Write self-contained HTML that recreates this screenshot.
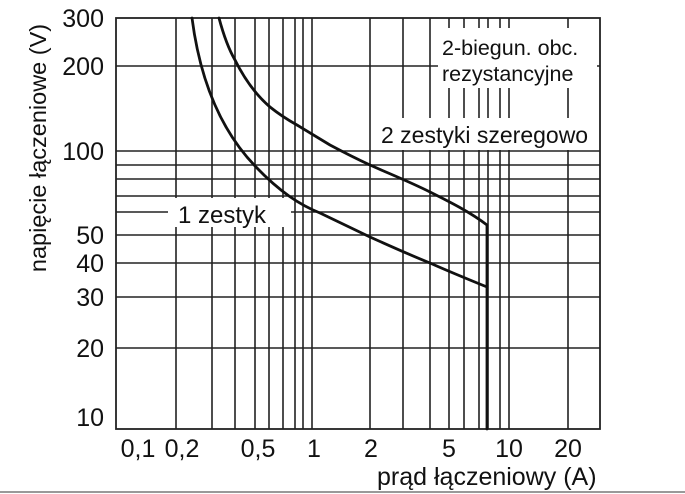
<!DOCTYPE html>
<html><head><meta charset="utf-8"><style>
html,body{margin:0;padding:0;background:#fff;}
svg{display:block;}
text{font-family:"Liberation Sans",sans-serif;fill:#111;}
</style></head><body>
<svg width="685" height="494" viewBox="0 0 685 494" xmlns="http://www.w3.org/2000/svg">
<rect width="685" height="494" fill="#fff"/>
<g stroke="#222" stroke-width="1.6" fill="none">
<line x1="116" y1="66" x2="600" y2="66"/>
<line x1="116" y1="151" x2="600" y2="151"/>
<line x1="116" y1="165" x2="600" y2="165"/>
<line x1="116" y1="179" x2="600" y2="179"/>
<line x1="116" y1="196" x2="600" y2="196"/>
<line x1="116" y1="212" x2="600" y2="212"/>
<line x1="116" y1="235" x2="600" y2="235"/>
<line x1="116" y1="263" x2="600" y2="263"/>
<line x1="116" y1="297" x2="600" y2="297"/>
<line x1="116" y1="348" x2="600" y2="348"/>
<line x1="176" y1="18" x2="176" y2="429"/>
<line x1="212" y1="18" x2="212" y2="429"/>
<line x1="235" y1="18" x2="235" y2="429"/>
<line x1="255" y1="18" x2="255" y2="429"/>
<line x1="269" y1="18" x2="269" y2="429"/>
<line x1="283" y1="18" x2="283" y2="429"/>
<line x1="295" y1="18" x2="295" y2="429"/>
<line x1="303" y1="18" x2="303" y2="429"/>
<line x1="312" y1="18" x2="312" y2="429"/>
<line x1="370" y1="18" x2="370" y2="429"/>
<line x1="403" y1="18" x2="403" y2="429"/>
<line x1="430" y1="18" x2="430" y2="429"/>
<line x1="449" y1="18" x2="449" y2="429"/>
<line x1="464" y1="18" x2="464" y2="429"/>
<line x1="479" y1="18" x2="479" y2="429"/>
<line x1="488" y1="18" x2="488" y2="429"/>
<line x1="500" y1="18" x2="500" y2="429"/>
<line x1="509" y1="18" x2="509" y2="429"/>
<line x1="568" y1="18" x2="568" y2="429"/>
</g>
<rect x="168" y="198" width="123" height="29" fill="#fff"/>
<rect x="438" y="28" width="159" height="60" fill="#fff"/>
<rect x="371" y="118" width="228" height="32" fill="#fff"/>
<rect x="116" y="18" width="484" height="411" fill="none" stroke="#222" stroke-width="1.8"/>
<g stroke="#111" stroke-width="2.8" fill="none" stroke-linejoin="round" stroke-linecap="round">
<path d="M192,18 C200,80 220,130 256,167 C280,192 300,205 320,213 L370,237 C390,246 410,255 430,263 C450,272 470,280 487,287 L487,429"/>
<path d="M219,18 C223,33 228,48 235,60 C245,80 256,95 270,107 C280,115 288,120 297,125 C310,133 320,139 330,145 C345,153 357,159 370,165 C390,174 410,182 430,192 C450,202 470,212 487,225 L487,287"/>
</g>
<text x="178" y="223" font-size="24">1 zestyk</text>
<text x="442" y="55" font-size="21.5">2-biegun. obc.</text>
<text x="442" y="81" font-size="21.5">rezystancyjne</text>
<text x="381" y="143" font-size="23">2 zestyki szeregowo</text>
<g font-size="25" text-anchor="end">
<text x="104" y="27">300</text>
<text x="104" y="75">200</text>
<text x="104" y="160">100</text>
<text x="104" y="244">50</text>
<text x="104" y="272">40</text>
<text x="104" y="306">30</text>
<text x="104" y="357">20</text>
<text x="104" y="426">10</text>
</g>
<g font-size="25" text-anchor="middle">
<text x="138" y="457">0,1</text>
<text x="182" y="457">0,2</text>
<text x="258" y="457">0,5</text>
<text x="314" y="457">1</text>
<text x="371" y="457">2</text>
<text x="449" y="457">5</text>
<text x="509" y="457">10</text>
<text x="568" y="457">20</text>
</g>
<text x="377" y="485" font-size="25">prąd łączeniowy (A)</text>
<text transform="translate(46,148) rotate(-90)" font-size="23.5" text-anchor="middle">napięcie łączeniowe (V)</text>
<line x1="0" y1="492" x2="685" y2="492" stroke="#999" stroke-width="2"/>
</svg>
</body></html>
